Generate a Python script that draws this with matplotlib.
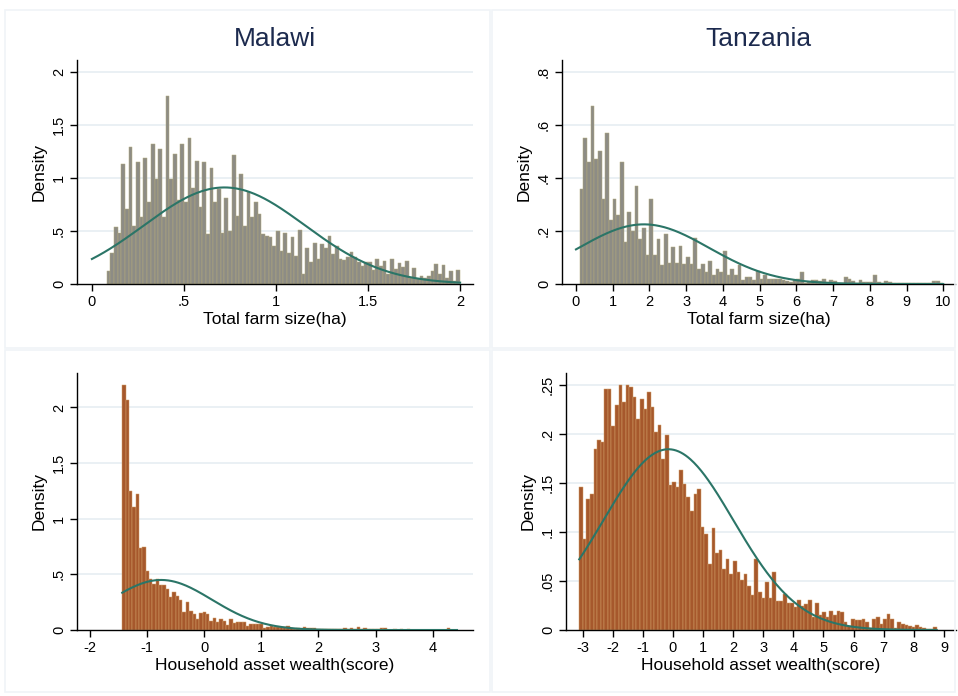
import numpy as np
import matplotlib.pyplot as plt
from matplotlib.patches import Rectangle

# ---- data (density per bin) ----
malawi_farm = [0.12, 0.29, 0.54, 0.48, 1.13, 0.71, 1.29, 0.55, 1.15, 0.63,
               1.19, 0.77, 1.32, 0.99, 1.27, 0.63, 1.77, 0.99, 1.23, 0.79,
               1.32, 0.77, 1.38, 0.91, 1.16, 0.73, 1.15, 0.47, 1.09, 0.77,
               0.90, 0.48, 0.81, 0.50, 1.22, 0.64, 1.04, 0.55, 0.87, 0.63,
               0.77, 0.66, 0.47, 0.45,
               0.44, 0.36, 0.50, 0.31, 0.48, 0.29, 0.44, 0.26, 0.51, 0.09,
               0.34, 0.21, 0.39, 0.24, 0.38, 0.34, 0.45, 0.28, 0.36, 0.24,
               0.23, 0.25, 0.30, 0.25, 0.21, 0.17, 0.21, 0.21, 0.13, 0.24,
               0.17, 0.22, 0.09, 0.24, 0.14, 0.20, 0.16, 0.22, 0.06, 0.15,
               0.05, 0.08, 0.06, 0.08, 0.12, 0.19, 0.09, 0.18, 0.06, 0.12,
               0.03, 0.13]
malawi_farm_range = (0.08, 2.0)

tanzania_farm = [0.36, 0.55, 0.46, 0.67, 0.47, 0.50, 0.32, 0.57, 0.24, 0.32,
                 0.26, 0.46, 0.16, 0.27, 0.20, 0.37, 0.17, 0.21, 0.11, 0.32,
                 0.11, 0.17, 0.07, 0.19, 0.08, 0.14, 0.08, 0.145, 0.075, 0.10,
                 0.075, 0.175, 0.058, 0.077, 0.045, 0.086, 0.033, 0.058, 0.045, 0.126,
                 0.035, 0.058, 0.035, 0.07, 0.015, 0.028, 0.025, 0.015, 0.048, 0.02,
                 0.035, 0.02, 0.02, 0.02, 0.018, 0.015, 0.012, 0.008, 0.015, 0.02,
                 0.045, 0.005, 0.008, 0.015, 0.015, 0.01, 0.018, 0.008, 0.016, 0.01,
                 0.003, 0.003, 0.027, 0.018, 0.012, 0.003, 0.015, 0.008, 0.007, 0.007,
                 0.033, 0.006, 0.002, 0.01, 0.007, 0.003, 0.003, 0.003, 0.002, 0.004,
                 0.002, 0.004, 0.002, 0.002, 0.003, 0.004, 0.012, 0.01, 0.003]
tanzania_farm_range = (0.1, 10.0)

malawi_asset = [2.20, 2.07, 1.25, 1.11, 1.22, 0.74, 0.75, 0.53, 0.46, 0.41,
                0.46, 0.40, 0.40, 0.37, 0.30, 0.34, 0.31, 0.27, 0.16, 0.25,
                0.17, 0.14, 0.10, 0.15, 0.16, 0.14, 0.084, 0.105, 0.075, 0.10,
                0.084, 0.045, 0.10, 0.066, 0.072, 0.072, 0.07, 0.036, 0.05, 0.05,
                0.05, 0.05, 0.015, 0.03, 0.04, 0.03, 0.024, 0.024, 0.03, 0.036,
                0.015, 0.01, 0.02, 0.012, 0.025, 0.022, 0.02, 0.02, 0.01, 0.012,
                0.008, 0.006, 0.01, 0.008, 0.006, 0.005, 0.018, 0.01, 0.02, 0.008,
                0.025, 0.01, 0.02, 0.005, 0.012, 0.008, 0.006, 0.018, 0.015, 0.004,
                0.004, 0.006, 0.003, 0.005, 0.003, 0.008, 0.004, 0.002, 0.003, 0.002,
                0.004, 0.002, 0.003, 0.002, 0.002, 0.003, 0.004, 0.018, 0.004, 0.003]
malawi_asset_range = (-1.43, 4.42)

tanzania_asset = [0.146, 0.093, 0.134, 0.139, 0.185, 0.194, 0.192, 0.246, 0.246, 0.208,
                  0.230, 0.250, 0.233, 0.250, 0.248, 0.238, 0.216, 0.236, 0.226, 0.243,
                  0.228, 0.202, 0.209, 0.175, 0.199, 0.148, 0.151, 0.146, 0.163, 0.149,
                  0.136, 0.122, 0.139, 0.144, 0.105, 0.098, 0.067, 0.104, 0.079, 0.082,
                  0.062, 0.073, 0.057, 0.071, 0.059, 0.051, 0.057, 0.045, 0.036, 0.073,
                  0.039, 0.033, 0.049, 0.033, 0.059, 0.030, 0.030, 0.037, 0.028, 0.028,
                  0.023, 0.031, 0.025, 0.027, 0.031, 0.013, 0.028, 0.015, 0.018, 0.013,
                  0.019, 0.015, 0.019, 0.018, 0.008, 0.004, 0.011, 0.010, 0.010, 0.011,
                  0.008, 0.002, 0.011, 0.013, 0.006, 0.011, 0.016, 0.011, 0.002, 0.008,
                  0.006, 0.005, 0.004, 0.003, 0.005, 0.003, 0.002, 0.001, 0.001, 0.003]
tanzania_asset_range = (-3.11, 8.76)

# normal overlay: (mean, sd, x from, x to)
malawi_farm_norm = (0.72, 0.438, 0.0, 2.0)
tanzania_farm_norm = (1.85, 1.773, 0.0, 10.0)
malawi_asset_norm = (-0.75, 0.887, -1.43, 4.42)
tanzania_asset_norm = (-0.15, 2.16, -3.11, 8.76)

titles = ["Malawi", "Tanzania"]
xlab_top = "Total farm size(ha)"
xlab_bot = "Household asset wealth(score)"

W, H = 958, 696
fig = plt.figure(figsize=(W / 100, H / 100), dpi=100)
fig.patch.set_facecolor('white')

def box(x0, y0, x1, y1):
    return [x0 / W, 1 - y1 / H, (x1 - x0) / W, (y1 - y0) / H]

# faint panel frames
for (x0, y0, x1, y1) in [(5, 10, 490, 348), (492, 10, 955, 348),
                         (5, 350, 490, 692), (492, 350, 955, 692)]:
    fig.patches.append(Rectangle((x0 / W, 1 - y1 / H), (x1 - x0) / W, (y1 - y0) / H,
                                 transform=fig.transFigure, fill=False,
                                 edgecolor='#f0f4f7', lw=1.2))

lab_font = ['Liberation Sans', 'DejaVu Sans']
title_font = ['Liberation Sans Narrow', 'Liberation Sans', 'DejaVu Sans']
curve_col = '#2b7567'

def panel(rect, heights, rng, norm, xlim, ylim, xticks, xtl, yticks, ytl,
          xlabel, face, edge, title=None):
    ax = fig.add_axes(box(*rect))
    n = len(heights)
    edges = np.linspace(rng[0], rng[1], n + 1)
    ax.bar(edges[:-1], heights, width=np.diff(edges), align='edge',
           color=face, edgecolor=edge, linewidth=0.35, zorder=2)
    mu, sd, a, b = norm
    xs = np.linspace(a, b, 300)
    ys = np.exp(-0.5 * ((xs - mu) / sd) ** 2) / (sd * np.sqrt(2 * np.pi))
    ax.plot(xs, ys, color=curve_col, lw=1.5, zorder=3)
    ax.set_xlim(*xlim)
    ax.set_ylim(*ylim)
    ax.set_xticks(xticks)
    ax.set_xticklabels(xtl, family=lab_font, fontsize=10.5)
    ax.set_yticks(yticks)
    ax.set_yticklabels(ytl, family=lab_font, fontsize=10.5, rotation=90, va='center')
    for yt in yticks[1:]:
        ax.axhline(yt, color='#e6eef2', lw=1.2, zorder=1)
    ax.spines['top'].set_visible(False)
    ax.spines['right'].set_visible(False)
    ax.spines['left'].set_linewidth(1.0)
    ax.spines['bottom'].set_linewidth(1.0)
    ax.tick_params(direction='out', length=5, width=1, pad=3)
    ax.set_xlabel(xlabel, family=lab_font, fontsize=12.5, labelpad=2)
    ax.set_ylabel("Density", family=lab_font, fontsize=12.5, labelpad=4)
    if title:
        ax.set_title(title, family=title_font, fontsize=19, color='#1c2a4e', pad=10)
    return ax

gray_face, gray_edge = '#8d8c85', '#b3ab7c'
rust_face, rust_edge = '#a6582c', '#d3a068'

panel((77, 60, 473, 284), malawi_farm, malawi_farm_range, malawi_farm_norm,
      (-0.081, 2.07), (0, 2.113), [0, 0.5, 1, 1.5, 2], ['0', '.5', '1', '1.5', '2'],
      [0, 0.5, 1, 1.5, 2], ['0', '.5', '1', '1.5', '2'], xlab_top,
      gray_face, gray_edge, titles[0])

panel((562, 60, 955, 284), tanzania_farm, tanzania_farm_range, tanzania_farm_norm,
      (-0.38, 10.32), (0, 0.845), list(range(11)), [str(i) for i in range(11)],
      [0, 0.2, 0.4, 0.6, 0.8], ['0', '.2', '.4', '.6', '.8'], xlab_top,
      gray_face, gray_edge, titles[1])

panel((77, 373, 473, 630), malawi_asset, malawi_asset_range, malawi_asset_norm,
      (-2.22, 4.70), (0, 2.31), list(range(-2, 5)), [str(i) for i in range(-2, 5)],
      [0, 0.5, 1, 1.5, 2], ['0', '.5', '1', '1.5', '2'], xlab_bot,
      rust_face, rust_edge)

panel((566, 373, 956, 630), tanzania_asset, tanzania_asset_range, tanzania_asset_norm,
      (-3.55, 9.40), (0, 0.2626), list(range(-3, 10)), [str(i) for i in range(-3, 10)],
      [0, 0.05, 0.1, 0.15, 0.2, 0.25], ['0', '.05', '.1', '.15', '.2', '.25'], xlab_bot,
      rust_face, rust_edge)

plt.savefig("out.png", dpi=100)
